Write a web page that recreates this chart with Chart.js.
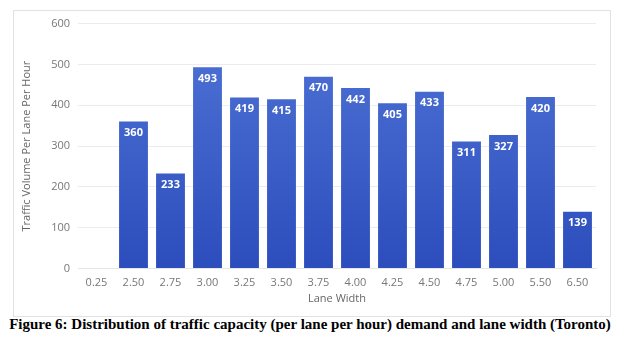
<!DOCTYPE html>
<html>
<head>
<meta charset="utf-8">
<script src="https://cdn.jsdelivr.net/npm/chart.js@4"></script>
<style>
  body { margin: 0; background: #fff; width: 620px; height: 345px; position: relative; overflow: hidden; }
  #chart-box { position: absolute; left: 13px; top: 10px; width: 596px; height: 305px; border: 1px solid #e2e2e2; background: #fff; }
  #lane-chart { display: block; margin-top: -2px; }
  #caption { position: absolute; left: 0; top: 316px; width: 620px; text-align: center;
    font-family: "Liberation Serif", serif; font-weight: bold; font-size: 15px; color: #000; white-space: nowrap; }
</style>
</head>
<body>
<div id="chart-box"><canvas id="lane-chart" width="596" height="307"></canvas></div>
<div id="caption">Figure 6: Distribution of traffic capacity (per lane per hour) demand and lane width (Toronto)</div>
<script>
const laneWidths = ['0.25', '2.50', '2.75', '3.00', '3.25', '3.50', '3.75', '4.00', '4.25', '4.50', '4.75', '5.00', '5.50', '6.50'];
const volumes = [0, 360, 233, 493, 419, 415, 470, 442, 405, 433, 311, 327, 420, 139];
const yTicks = [0, 100, 200, 300, 400, 500, 600];

// draws the value inside the top of each bar
const barLabels = {
  id: 'barLabels',
  afterDatasetsDraw(chart) {
    const ctx = chart.ctx;
    const meta = chart.getDatasetMeta(0);
    ctx.save();
    ctx.font = 'bold 11px "Open Sans"';
    ctx.fillStyle = '#ffffff';
    ctx.textAlign = 'center';
    ctx.textBaseline = 'top';
    meta.data.forEach((bar, i) => {
      if (!volumes[i]) return;
      ctx.fillText(volumes[i], bar.x, bar.y + 6);
    });
    ctx.restore();
  }
};

function barGradient(context) {
  const area = context.chart.chartArea;
  if (!area) return '#3a5cc8';
  const g = context.chart.ctx.createLinearGradient(0, area.top, 0, area.bottom);
  g.addColorStop(0, '#4f74d6');
  g.addColorStop(1, '#2c4dbc');
  return g;
}

const ctx = document.getElementById('lane-chart');
new Chart(ctx, {
  type: 'bar',
  data: {
    labels: laneWidths,
    datasets: [{
      data: volumes,
      backgroundColor: barGradient,
      borderWidth: 0,
      barPercentage: 0.78,
      categoryPercentage: 1.0
    }]
  },
  options: {
    responsive: false,
    animation: false,
    layout: { padding: { top: -1, right: 14, bottom: 11, left: 6 } },
    plugins: { legend: { display: false }, tooltip: { enabled: false } },
    scales: {
      x: {
        grid: { display: false },
        border: { display: true, color: '#e6e6e6' },
        ticks: { color: '#777', font: { family: 'Open Sans', size: 11 }, padding: 0 },
        title: { display: true, text: 'Lane Width', color: '#666', font: { family: 'Open Sans', size: 11 }, padding: { top: 2, bottom: 0 } }
      },
      y: {
        min: 0, max: 600,
        afterBuildTicks(scale) { scale.ticks = yTicks.map(v => ({ value: v })); },
        afterFit(scale) { scale.width = 58; },
        grid: { color: '#ececec', drawTicks: false },
        border: { display: false },
        ticks: { color: '#777', font: { family: 'Open Sans', size: 11 }, padding: 8 },
        title: { display: true, text: 'Traffic Volume Per Lane Per Hour', color: '#666', font: { family: 'Open Sans', size: 11 }, padding: 0 }
      }
    }
  },
  plugins: [barLabels]
});
</script>
</body>
</html>
